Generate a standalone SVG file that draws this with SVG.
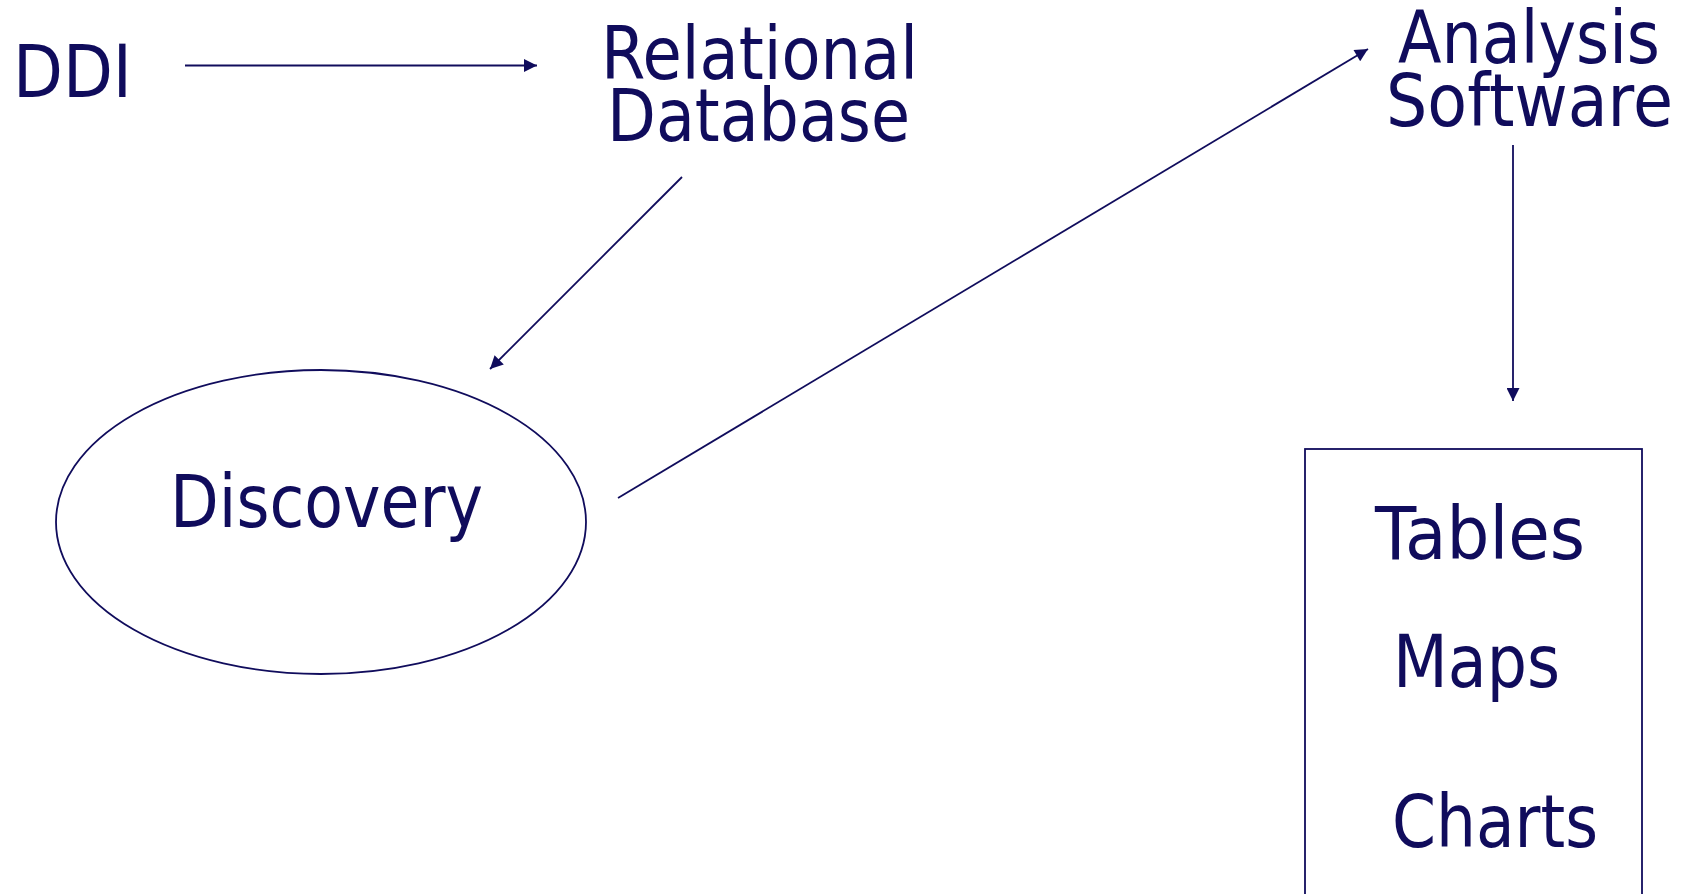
<svg xmlns="http://www.w3.org/2000/svg" width="1694" height="894" viewBox="0 0 1694 894">
<defs>
<style>
.t{font-family:"DejaVu Sans","Liberation Sans",sans-serif;font-size:73px;fill:#100c5c}
.c{stroke:#100c5c;stroke-width:1.8;fill:none}
.s{stroke:#100c5c;stroke-width:1.8;fill:#fff}
</style>
<marker id="ah" viewBox="0 0 10 10" refX="10" refY="5" markerWidth="16" markerHeight="13" markerUnits="userSpaceOnUse" orient="auto">
<path d="M0,0 L10,5 L0,10 z" fill="#100c5c"/>
</marker>
</defs>
<rect width="1694" height="894" fill="#fff"/>
<g id="connectors">
<line class="c" x1="185" y1="65.5" x2="537" y2="65.5" marker-end="url(#ah)"/>
<line class="c" x1="682" y1="177" x2="490" y2="369" marker-end="url(#ah)"/>
<line class="c" x1="618" y1="498" x2="1368" y2="49" marker-end="url(#ah)"/>
<line class="c" x1="1513" y1="145" x2="1513" y2="401" marker-end="url(#ah)"/>
</g>
<g id="ddi"><text class="t" x="13" y="97" textLength="119" lengthAdjust="spacingAndGlyphs">DDI</text></g>
<g id="relational-database">
<text class="t" x="601" y="79" textLength="317" lengthAdjust="spacingAndGlyphs">Relational</text>
<text class="t" x="607" y="141" textLength="303" lengthAdjust="spacingAndGlyphs">Database</text>
</g>
<g id="analysis-software">
<text class="t" x="1398" y="63" textLength="262" lengthAdjust="spacingAndGlyphs">Analysis</text>
<text class="t" x="1386" y="126" textLength="287" lengthAdjust="spacingAndGlyphs">Software</text>
</g>
<g id="discovery">
<ellipse class="s" cx="321" cy="522" rx="265" ry="152"/>
<text class="t" x="170" y="527" textLength="313" lengthAdjust="spacingAndGlyphs">Discovery</text>
</g>
<g id="outputs">
<rect class="s" x="1305" y="449" width="337" height="470"/>
<text class="t" x="1375" y="559" textLength="210" lengthAdjust="spacingAndGlyphs">Tables</text>
<text class="t" x="1393" y="687" textLength="167" lengthAdjust="spacingAndGlyphs">Maps</text>
<text class="t" x="1392" y="847" textLength="206" lengthAdjust="spacingAndGlyphs">Charts</text>
</g>
</svg>
